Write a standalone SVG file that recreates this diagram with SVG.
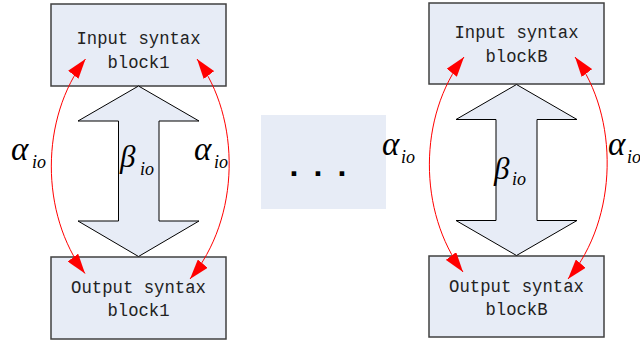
<svg xmlns="http://www.w3.org/2000/svg" width="640" height="345" viewBox="0 0 640 345">
<defs>
<marker id="ah" markerUnits="userSpaceOnUse" markerWidth="21" markerHeight="13" refX="20" refY="6.5" orient="auto-start-reverse" viewBox="0 0 21 13">
<path d="M0,0 L20,6.5 L0,13 z" fill="#ff0000"/>
</marker>
</defs>
<style>
.box{fill:#e7ecf6;stroke:#404040;stroke-width:1.5}
.dbl{fill:#e7ecf6;stroke:#000;stroke-width:1}
.lbl{font-family:"Liberation Mono",monospace;font-size:18px;fill:#222;text-anchor:middle}
.arc{fill:none;stroke:#ff0000;stroke-width:1;marker-start:url(#ah);marker-end:url(#ah)}
.g{font-family:"Liberation Serif",serif;font-style:italic;fill:#000}
.big{font-size:33px}
.bb{font-size:31px}
.sub{font-size:18px}
</style>
<rect x="261" y="115" width="125" height="94" fill="#e7ecf6"/>
<text x="289.5 313.5 337.5" y="176" font-family="Liberation Sans,sans-serif" font-size="32" font-weight="bold" fill="#000">...</text>

<g id="in1">
<rect class="box" x="51" y="4" width="175" height="82"/>
<text class="lbl" x="138.5" y="44" textLength="124" lengthAdjust="spacingAndGlyphs">Input syntax</text>
<text class="lbl" x="138.5" y="68" textLength="62" lengthAdjust="spacingAndGlyphs">block1</text>
</g>
<g id="out1">
<rect class="box" x="51" y="257" width="175" height="82"/>
<text class="lbl" x="138.5" y="293" textLength="135" lengthAdjust="spacingAndGlyphs">Output syntax</text>
<text class="lbl" x="138.5" y="316" textLength="62" lengthAdjust="spacingAndGlyphs">block1</text>
</g>
<g id="beta1">
<path class="dbl" d="M138.5,86 L199,121 L159,121 L159,221 L199,221 L138.5,256.5 L78,221 L118.5,221 L118.5,121 L78,121 Z"/>
<text class="g bb" x="120" y="167">β</text>
<text class="g sub" x="140" y="175">io</text>
</g>
<g id="inB">
<rect class="box" x="429" y="3" width="175" height="81"/>
<text class="lbl" x="516.5" y="38" textLength="124" lengthAdjust="spacingAndGlyphs">Input syntax</text>
<text class="lbl" x="516.5" y="62" textLength="62" lengthAdjust="spacingAndGlyphs">blockB</text>
</g>
<g id="outB">
<rect class="box" x="429" y="256" width="175" height="81"/>
<text class="lbl" x="516.5" y="292" textLength="135" lengthAdjust="spacingAndGlyphs">Output syntax</text>
<text class="lbl" x="516.5" y="315" textLength="62" lengthAdjust="spacingAndGlyphs">blockB</text>
</g>
<g id="betaB">
<path class="dbl" d="M516.5,84.5 L577,119.5 L537,119.5 L537,220.5 L577,220.5 L516.5,255.5 L456,220.5 L496,220.5 L496,119.5 L456,119.5 Z"/>
<text class="g bb" x="494" y="179">β</text>
<text class="g sub" x="512" y="185">io</text>
</g>

<g id="connectors">
<path class="arc" d="M85.5,59 C40,118 40,214 85,273.5"/>
<path class="arc" d="M197,59 C241,118 241,218 190,279"/>
<path class="arc" d="M464,57 C418,116 418,212 463,272"/>
<path class="arc" d="M575,57 C619,116 619,218 568,279"/>
</g>

<g id="labels">
<text class="g big" x="11" y="160">α</text>
<text class="g sub" x="32" y="168">io</text>
<text class="g big" x="194" y="160">α</text>
<text class="g sub" x="214" y="168">io</text>
<text class="g big" x="382" y="155">α</text>
<text class="g sub" x="401" y="163">io</text>
<text class="g big" x="608" y="155">α</text>
<text class="g sub" x="627" y="163">io</text>
</g>
</svg>
